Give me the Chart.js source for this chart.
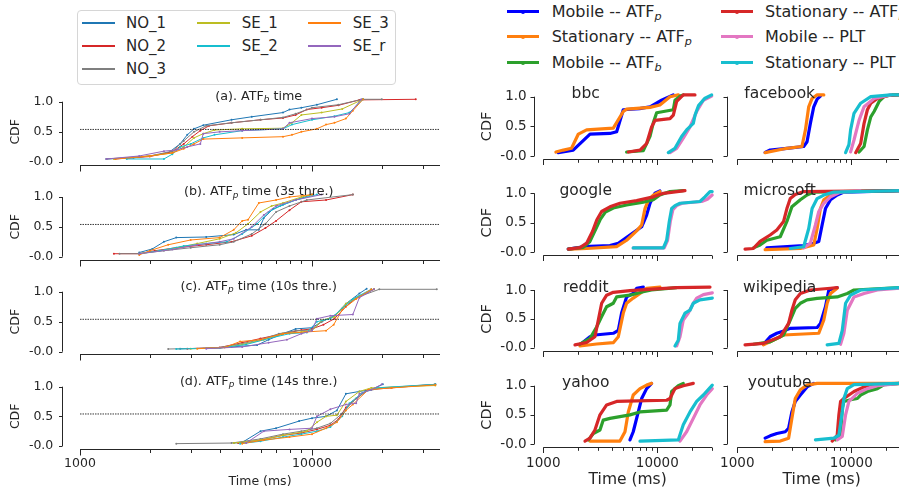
<!DOCTYPE html>
<html>
<head>
<meta charset="utf-8">
<script src="https://cdn.jsdelivr.net/npm/chart.js@4"></script>
<style>
html, body { margin: 0; padding: 0; width: 899px; height: 489px; overflow: hidden; background: #fff; }
body { font-family: "DejaVu Sans"; color: #262626; }
canvas { position: absolute; }
.lg { position: absolute; white-space: nowrap; }
.sw { position: absolute; }
</style>
</head>
<body>
<script>
// ---- data ----
const yTicks = [0, 0.5, 1];
const yTickLabels = ['-0.0', '0.5', '1.0'];
const majorTicks = [1000, 10000];
const minorTicks = [2000, 3000, 4000, 5000, 6000, 7000, 8000, 9000, 20000, 30000];

const leftNames = ['NO_1', 'NO_2', 'NO_3', 'SE_1', 'SE_2', 'SE_3', 'SE_r'];
const leftColors = ['#1f77b4', '#d62728', '#7f7f7f', '#bcbd22', '#17becf', '#ff7f0e', '#9467bd'];
const leftTitles = ['(a). ATF_b time', '(b). ATF_p time (3s thre.)', '(c). ATF_p time (10s thre.)', '(d). ATF_p time (14s thre.)'];
const midLine = [0.54, 0.54, 0.54, 0.54];

// [time ms, cdf] per series, order of leftNames
const atfB = [
  [[1300,0.05],[1700,0.07],[2000,0.1],[2400,0.15],[2700,0.3],[2900,0.45],[3100,0.55],[3400,0.61],[4500,0.7],[5500,0.75],[7500,0.82],[8000,0.87],[9000,0.9],[10500,0.95],[12800,1.04]],
  [[1420,0.05],[2000,0.09],[2500,0.17],[2800,0.3],[3050,0.42],[3300,0.52],[3600,0.6],[4500,0.65],[6000,0.7],[7500,0.73],[8500,0.78],[9500,0.87],[11000,0.9],[13000,0.94],[16000,1.03],[28000,1.04]],
  [[1300,0.05],[2000,0.1],[2500,0.18],[2800,0.35],[3100,0.5],[3500,0.6],[4500,0.65],[6000,0.7],[7500,0.74],[8500,0.8],[10000,0.9],[13000,0.95],[16500,1.04],[20000,1.04]],
  [[1400,0.05],[2000,0.1],[2500,0.15],[2800,0.25],[3100,0.4],[3400,0.47],[3800,0.53],[5000,0.55],[7500,0.56],[8200,0.65],[9000,0.78],[11000,0.82],[13500,0.88],[16600,1.04]],
  [[1590,0.05],[2300,0.05],[2500,0.13],[2700,0.25],[3000,0.3],[3400,0.4],[3800,0.45],[5000,0.52],[7500,0.55],[8200,0.62],[10000,0.7],[12500,0.76],[14500,0.82],[16600,1.04]],
  [[1420,0.05],[2000,0.1],[2500,0.15],[2800,0.22],[3100,0.3],[3400,0.38],[5000,0.4],[7500,0.42],[8200,0.45],[9000,0.5],[10500,0.55],[11500,0.62],[12500,0.65],[14000,0.72],[15000,0.85],[16600,1.04]],
  [[1300,0.05],[1800,0.1],[2300,0.18],[2600,0.2],[2900,0.25],[3300,0.3],[3400,0.47],[4000,0.5],[5000,0.52],[7500,0.55],[8000,0.65],[10000,0.72],[12500,0.75],[14500,0.8],[16300,1.04]]
];
const atfP3 = [
  [[1800,0.07],[2050,0.13],[2300,0.25],[2600,0.32],[3500,0.33],[4600,0.37],[5200,0.45],[5900,0.45],[6200,0.65],[6800,0.8],[7500,0.87],[8500,0.95],[10000,1.04]],
  [[1400,0.05],[1800,0.05],[2100,0.1],[2600,0.15],[3500,0.2],[4500,0.25],[5500,0.35],[6300,0.48],[7000,0.6],[8000,0.78],[9000,0.92],[11500,0.95],[15000,1.04]],
  [[1480,0.05],[1800,0.05],[2300,0.1],[3000,0.15],[4000,0.2],[4600,0.25],[5500,0.38],[6300,0.55],[7000,0.75],[8000,0.85],[9500,0.95],[15000,1.04]],
  [[1800,0.05],[2400,0.12],[3200,0.22],[4000,0.3],[4700,0.4],[5300,0.55],[6000,0.75],[6700,0.85],[7500,0.9],[9000,1.0],[10000,1.04]],
  [[1800,0.05],[2200,0.1],[2800,0.18],[3500,0.22],[4300,0.25],[5000,0.38],[5800,0.55],[6500,0.75],[7300,0.85],[8500,0.95],[10500,1.04]],
  [[1800,0.03],[2000,0.1],[2400,0.2],[3000,0.28],[4000,0.32],[4600,0.45],[5000,0.6],[5300,0.62],[5900,0.9],[7000,0.95],[8000,1.0],[10000,1.04]],
  [[1800,0.05],[2500,0.12],[3200,0.2],[4000,0.25],[4600,0.3],[5500,0.5],[6200,0.7],[7000,0.85],[8500,0.95],[11000,1.04]]
];
const atfP10 = [
  [[2700,0.05],[3800,0.06],[4500,0.08],[5800,0.11],[6500,0.2],[7500,0.3],[8500,0.38],[10000,0.4],[11000,0.5],[12500,0.6],[14000,0.8],[16000,0.97],[17200,1.05]],
  [[2900,0.05],[4000,0.07],[5000,0.15],[6000,0.22],[7500,0.3],[9000,0.36],[10000,0.38],[11200,0.45],[12500,0.55],[14000,0.75],[15500,0.9],[18500,1.04]],
  [[2400,0.045],[3800,0.06],[4800,0.12],[6000,0.2],[7200,0.3],[8500,0.35],[10000,0.36],[11000,0.5],[12500,0.6],[14000,0.78],[16000,0.92],[19500,1.04],[34500,1.04]],
  [[3000,0.05],[4000,0.06],[5000,0.12],[6200,0.2],[7500,0.3],[9000,0.33],[10000,0.35],[11000,0.52],[12500,0.58],[14000,0.8],[16000,0.93],[18500,1.04]],
  [[2600,0.045],[4000,0.06],[5200,0.12],[6500,0.22],[8000,0.3],[9500,0.32],[10500,0.5],[12000,0.55],[13500,0.72],[15000,0.88],[18000,1.04]],
  [[3200,0.05],[4200,0.07],[4900,0.17],[6000,0.2],[7500,0.3],[9500,0.33],[11500,0.35],[12400,0.45],[13500,0.7],[15500,0.88],[18000,1.04]],
  [[3500,0.05],[5000,0.08],[6500,0.15],[7800,0.2],[9000,0.3],[10000,0.35],[10500,0.55],[12000,0.6],[15000,0.62],[16000,0.9],[18500,1.04]]
];
const atfP14 = [
  [[4600,0.05],[5000,0.06],[6000,0.25],[7000,0.3],[8800,0.42],[10000,0.47],[11500,0.5],[12800,0.6],[14000,0.88],[16000,0.92],[18000,0.95],[20200,1.04]],
  [[4800,0.05],[6000,0.1],[7500,0.18],[9000,0.22],[10500,0.28],[12000,0.35],[13000,0.45],[14000,0.65],[15500,0.8],[17500,0.95],[22000,0.98],[34000,1.04]],
  [[2600,0.04],[4500,0.05],[6000,0.12],[7500,0.2],[9000,0.25],[10500,0.3],[12000,0.38],[13500,0.55],[15000,0.75],[17000,0.92],[20000,0.98],[34000,1.04]],
  [[4600,0.05],[6000,0.1],[7500,0.18],[9500,0.25],[10500,0.4],[11500,0.5],[12800,0.52],[14000,0.75],[16000,0.92],[18000,0.98],[34000,1.02]],
  [[4900,0.04],[6000,0.08],[7500,0.15],[9000,0.2],[10500,0.25],[12000,0.32],[13500,0.5],[14500,0.72],[16500,0.9],[19000,0.98],[34000,1.04]],
  [[5000,0.04],[6200,0.1],[8000,0.15],[10000,0.2],[11500,0.3],[12800,0.4],[14000,0.6],[15000,0.7],[17500,0.95],[22000,0.98],[34000,1.03]],
  [[5200,0.05],[6200,0.25],[8000,0.28],[10000,0.3],[10500,0.5],[12000,0.62],[14000,0.7],[15500,0.72],[16000,0.88],[18000,0.95],[20000,1.04]]
];

const rightNames = ['Mobile -- ATF_p', 'Stationary -- ATF_p', 'Mobile -- ATF_b', 'Stationary -- ATF_b', 'Mobile -- PLT', 'Stationary -- PLT'];
const rightColors = ['#0000ff', '#ff7f0e', '#2ca02c', '#d62728', '#e377c2', '#17becf'];
const siteNames = ['bbc', 'facebook', 'google', 'microsoft', 'reddit', 'wikipedia', 'yahoo', 'youtube'];

// order of rightNames
const bbc = [
  [[1350,0.056],[1830,0.1],[2100,0.21],[2570,0.37],[3840,0.38],[4400,0.41],[5030,0.78],[7000,0.8],[8630,0.83],[10900,0.94],[13800,1.03]],
  [[1290,0.067],[1500,0.1],[1770,0.13],[2030,0.37],[2400,0.44],[4110,0.47],[5030,0.75],[5380,0.79],[8630,0.82],[10540,0.86],[12920,1.0],[15280,1.03]],
  [[5380,0.067],[7540,0.09],[8630,0.33],[9220,0.56],[9870,0.73],[13820,0.78],[14290,0.94],[15810,1.01],[16900,1.03]],
  [[5570,0.067],[7050,0.1],[8060,0.21],[8910,0.49],[9540,0.6],[12920,0.63],[13820,0.69],[14790,0.92],[16900,1.03],[21400,1.03]],
  [[12920,0.056],[14790,0.13],[16900,0.3],[19360,0.49],[22150,0.75],[25350,0.94],[29970,1.01]],
  [[12490,0.056],[14290,0.13],[16350,0.33],[18070,0.44],[20690,0.55],[21500,0.7],[23000,0.85],[26000,0.97],[30000,1.03]]
];
const facebook = [
  [[1754,0.06],[1941,0.1],[2723,0.13],[3820,0.16],[4090,0.24],[4375,0.55],[4685,0.83],[5015,0.96],[5360,1.01]],
  [[1754,0.056],[2723,0.13],[3690,0.16],[3960,0.44],[4230,0.83],[4530,0.97],[5015,1.03],[5740,1.03]],
  [[11690,0.067],[12940,0.16],[13840,0.44],[14820,0.66],[15850,0.75],[17540,0.92],[19420,1.0],[22220,1.03],[27000,1.03]],
  [[10920,0.056],[12080,0.21],[12940,0.55],[13840,0.78],[14820,0.89],[16960,0.97],[21000,1.02],[27000,1.03]],
  [[9860,0.07],[10560,0.27],[11690,0.6],[12940,0.83],[15850,0.97],[22220,1.03]],
  [[8910,0.056],[9530,0.19],[9860,0.44],[10560,0.72],[12080,0.89],[14820,1.0],[22220,1.03],[27000,1.03]]
];
const google = [
  [[1656,0.05],[2243,0.09],[3843,0.11],[4550,0.15],[5754,0.29],[7290,0.43],[8060,0.63],[8630,0.83],[9540,1.0],[10540,1.04]],
  [[1714,0.05],[2400,0.06],[4396,0.09],[5380,0.2],[6590,0.36],[7290,0.46],[7800,0.74],[8340,0.88],[9230,0.97],[10540,1.03]],
  [[1656,0.05],[2243,0.08],[2566,0.18],[2900,0.4],[3150,0.55],[3500,0.68],[4110,0.75],[5380,0.8],[7540,0.85],[9230,0.89],[10540,0.97],[12920,1.03],[16900,1.045]],
  [[1656,0.05],[2100,0.074],[2400,0.15],[2700,0.35],[2950,0.55],[3250,0.69],[3843,0.77],[4705,0.83],[6590,0.875],[9230,0.94],[11300,1.0],[17490,1.045]],
  [[6150,0.07],[11500,0.07],[12300,0.2],[13000,0.52],[13700,0.72],[14800,0.79],[16500,0.83],[24500,0.86],[27500,0.9],[30300,0.97]],
  [[6150,0.07],[11300,0.07],[12080,0.2],[12740,0.52],[13360,0.74],[14290,0.79],[15810,0.83],[23650,0.86],[26170,0.94],[28990,1.03],[30300,1.03]]
];
const microsoft = [
  [[1815,0.07],[3820,0.11],[4685,0.15],[5186,0.18],[5546,0.46],[5935,0.74],[6570,0.89],[7520,0.97],[8610,1.02],[27000,1.045]],
  [[1754,0.04],[3573,0.06],[4685,0.12],[5015,0.4],[5360,0.74],[5740,0.89],[6570,0.97],[8050,1.03]],
  [[1384,0.07],[1585,0.12],[1815,0.2],[2380,0.26],[2723,0.52],[3013,0.77],[3573,0.89],[4090,0.97],[4685,1.02],[27000,1.045]],
  [[1169,0.05],[1384,0.06],[1585,0.18],[1941,0.29],[2222,0.375],[2546,0.52],[2723,0.74],[2915,0.91],[3225,0.98],[3820,1.03],[27000,1.045]],
  [[3820,0.07],[4375,0.15],[4845,0.46],[5186,0.69],[5740,0.83],[6570,0.94],[8050,1.02],[12000,1.04]],
  [[2915,0.06],[3820,0.09],[4232,0.4],[4530,0.74],[5015,0.91],[5740,0.97],[7030,1.02],[27000,1.045]]
];
const reddit = [
  [[2097,0.05],[2566,0.19],[2838,0.22],[4110,0.25],[4550,0.3],[4863,0.6],[5380,0.88],[6150,0.94],[6590,1.03],[7540,1.05]],
  [[2097,0.03],[2936,0.064],[4110,0.087],[4550,0.19],[5031,0.6],[5380,0.77],[6150,0.86],[7050,0.94],[8060,1.03],[10540,1.05]],
  [[2097,0.06],[2566,0.16],[2936,0.36],[3250,0.54],[3593,0.71],[4110,0.77],[4396,0.88],[5754,0.91],[7540,0.97],[8910,1.0],[14790,1.04]],
  [[1896,0.05],[2400,0.09],[2838,0.19],[3038,0.48],[3250,0.77],[3593,0.91],[4110,0.96],[5754,0.99],[9870,1.02],[14790,1.04],[28990,1.05]],
  [[14790,0.03],[15810,0.19],[16900,0.48],[18710,0.6],[20690,0.77],[22150,0.86],[25350,0.92],[30370,0.95]],
  [[14290,0.03],[15280,0.13],[15810,0.42],[17490,0.6],[19360,0.65],[20690,0.77],[23650,0.83],[30370,0.86]]
];
const wikipedia = [
  [[1696,0.06],[1941,0.19],[2222,0.25],[2634,0.3],[2915,0.335],[5015,0.35],[5360,0.42],[5935,0.71],[6350,1.0],[7520,1.04]],
  [[1696,0.05],[2222,0.16],[2546,0.22],[5186,0.25],[5740,0.48],[6140,0.77],[6570,0.94],[7520,1.03]],
  [[1384,0.06],[1941,0.1],[2546,0.22],[2915,0.48],[3225,0.68],[3573,0.77],[4090,0.83],[5015,0.855],[7520,0.88],[9220,0.94],[10560,1.0],[26700,1.04]],
  [[1169,0.05],[1696,0.075],[2380,0.19],[2818,0.42],[3013,0.65],[3225,0.83],[3573,0.94],[4375,1.0],[6570,1.03],[7520,1.04]],
  [[8050,0.06],[8610,0.25],[9220,0.65],[10560,0.88],[12940,0.94],[16960,1.0],[26700,1.03]],
  [[6140,0.05],[7780,0.075],[8330,0.3],[8910,0.77],[9860,0.91],[12080,1.0],[26700,1.04]]
];
const yahoo = [
  [[5754,0.07],[6150,0.21],[6810,0.55],[7290,0.78],[8060,0.95],[8910,1.04]],
  [[2566,0.05],[4705,0.05],[5205,0.21],[5567,0.55],[6150,0.84],[7050,0.95],[8060,1.01],[8910,1.04]],
  [[2481,0.07],[2746,0.18],[3141,0.24],[3357,0.41],[3843,0.44],[5754,0.5],[7050,0.55],[12080,0.58],[12920,0.67],[13360,0.9],[15280,1.0],[16900,1.04]],
  [[2321,0.05],[2566,0.1],[2838,0.24],[3141,0.5],[3593,0.67],[4396,0.73],[6590,0.74],[12080,0.75],[12920,0.78],[14290,0.95],[16900,1.0],[20690,1.04]],
  [[15810,0.05],[18070,0.21],[20690,0.44],[23650,0.67],[27080,0.84],[30370,0.95]],
  [[7050,0.05],[15280,0.07],[16900,0.33],[19360,0.55],[22150,0.73],[25350,0.84],[30370,1.01]]
];
const youtube = [
  [[1754,0.1],[1941,0.14],[2222,0.18],[2634,0.21],[2818,0.27],[3013,0.55],[3225,0.73],[3573,0.84],[4090,0.98],[4685,1.04]],
  [[1754,0.04],[2380,0.05],[2818,0.1],[3013,0.44],[3225,0.78],[3573,0.93],[4090,1.01],[5015,1.04],[27000,1.04]],
  [[7280,0.07],[8050,0.15],[8330,0.61],[8610,0.73],[9860,0.76],[11300,0.78],[12080,0.84],[13840,0.9],[16960,0.95],[19420,1.02],[27000,1.04]],
  [[6790,0.05],[7520,0.15],[7780,0.5],[8050,0.73],[8610,0.78],[10560,0.9],[12940,0.98],[14820,1.02],[27000,1.04]],
  [[7520,0.07],[8330,0.13],[8910,0.5],[9530,0.73],[11300,0.87],[13840,0.95],[16960,1.0],[27000,1.04]],
  [[4845,0.07],[7030,0.1],[7780,0.15],[8330,0.55],[8610,0.78],[9220,0.95],[10560,1.02],[27000,1.04]]
];

const leftPanels = [atfB, atfP3, atfP10, atfP14];
const sitePanels = [bbc, facebook, google, microsoft, reddit, wikipedia, yahoo, youtube];

// ---- drawing ----
const FONT = 'DejaVu Sans';
const INK = '#262626';

function drawRich(ctx, text, cx, base, size) {
  const m = text.match(/^(.*?)_(\w)(.*)$/);
  const parts = m ? [[m[1], false], [m[2], true], [m[3], false]] : [[text, false]];
  const fN = size + 'px "' + FONT + '"';
  const fS = 'italic ' + (size * 0.7) + 'px "' + FONT + '"';
  let w = 0;
  parts.forEach(p => { ctx.font = p[1] ? fS : fN; p.push(ctx.measureText(p[0]).width); w += p[2]; });
  let x = cx - w / 2;
  ctx.textAlign = 'left';
  ctx.textBaseline = 'alphabetic';
  parts.forEach(p => {
    ctx.font = p[1] ? fS : fN;
    ctx.fillText(p[0], x, p[1] ? base + size * 0.22 : base);
    x += p[2];
  });
}

const panelPlugin = {
  id: 'panel',
  afterDraw(chart, args, o) {
    const {ctx, chartArea: a, scales: {x, y}} = chart;
    ctx.save();
    ctx.strokeStyle = INK;
    ctx.lineWidth = 1;
    ctx.beginPath();
    const sx = Math.round(a.left - o.gap) + 0.5;
    ctx.moveTo(sx, y.getPixelForValue(0));
    ctx.lineTo(sx, y.getPixelForValue(1));
    yTicks.forEach(v => {
      const p = Math.round(y.getPixelForValue(v)) + 0.5;
      ctx.moveTo(sx - o.yTickLen, p);
      ctx.lineTo(sx, p);
    });
    const by = Math.round(a.bottom) + 0.5;
    ctx.moveTo(a.left, by);
    ctx.lineTo(a.right, by);
    majorTicks.concat(minorTicks).forEach(v => {
      if (v > x.max) return;
      const p = Math.round(x.getPixelForValue(v)) + 0.5;
      ctx.moveTo(p, by);
      ctx.lineTo(p, by + (majorTicks.includes(v) ? o.majorLen : o.minorLen));
    });
    ctx.stroke();
    ctx.fillStyle = INK;
    drawRich(ctx, o.title, a.left + o.titleDx, y.getPixelForValue(1) + o.titleDy, o.titleSize);
    ctx.restore();
  }
};

function pts(arr) { return arr.map(p => ({x: p[0], y: p[1]})); }

function buildChart(c) {
  const cv = document.createElement('canvas');
  cv.width = c.W; cv.height = c.H;
  cv.style.left = c.L + 'px'; cv.style.top = c.T + 'px';
  document.body.appendChild(cv);
  const unit = c.px0 - c.px1;
  const ct = c.px0 + c.px1 - c.cb;
  const yw = c.cl - c.L, xh = c.T + c.H - c.cb;
  const xmax = 1000 * Math.pow(10, (c.cr - c.cl) / c.decade);
  const s = c.style;
  const datasets = c.series.map((arr, i) => ({
    data: pts(arr),
    borderColor: c.colors[i], backgroundColor: c.colors[i],
    borderWidth: s.lw, pointRadius: s.pr, pointBorderWidth: 0,
    pointHoverRadius: 0, tension: 0, clip: false,
    borderJoinStyle: 'round', borderCapStyle: 'round',
    order: c.series.length - i
  }));
  if (c.mid !== undefined) {
    datasets.push({
      data: [{x: 1000, y: c.mid}, {x: xmax, y: c.mid}],
      borderColor: '#222', borderWidth: 0.9, borderDash: [1.5, 1],
      pointRadius: 0, pointHoverRadius: 0, clip: false, order: -1
    });
  }
  new Chart(cv, {
    type: 'line',
    data: {datasets},
    options: {
      responsive: false, animation: false, events: [], devicePixelRatio: 1,
      layout: {autoPadding: false, padding: {left: 0, bottom: 0, top: ct - c.T, right: c.L + c.W - c.cr}},
      plugins: {
        legend: {display: false}, tooltip: {enabled: false},
        panel: {gap: s.gap, yTickLen: s.yTickLen, majorLen: s.majorLen, minorLen: s.minorLen,
                title: c.title, titleDx: s.titleDx, titleDy: s.titleDy, titleSize: s.titleSize}
      },
      scales: {
        x: {
          type: 'logarithmic', min: 1000, max: xmax,
          grid: {display: false, drawTicks: false}, border: {display: false},
          afterBuildTicks: sc => { sc.ticks = majorTicks.map(v => ({value: v})); },
          afterFit: sc => { sc.height = xh; sc.paddingLeft = 0; sc.paddingRight = 0; sc.paddingTop = 0; sc.paddingBottom = 0; },
          ticks: {display: c.bottom, autoSkip: false, maxRotation: 0, minRotation: 0, padding: s.xTickPad,
                  color: INK, font: {family: FONT, size: s.tick}, callback: v => String(v)},
          title: {display: c.bottom, text: 'Time (ms)', color: INK, font: {family: FONT, size: s.xTitle}, padding: {top: 0, bottom: 0}}
        },
        y: {
          type: 'linear', min: (c.px0 - c.cb) / unit, max: (c.px0 - ct) / unit,
          grid: {display: false, drawTicks: false}, border: {display: false},
          afterBuildTicks: sc => { sc.ticks = yTicks.map(v => ({value: v})); },
          afterFit: sc => { sc.width = yw; sc.paddingTop = 0; sc.paddingBottom = 0; sc.paddingLeft = 0; sc.paddingRight = 0; },
          ticks: {display: c.yLabels, autoSkip: false, padding: s.yTickPad, color: INK,
                  font: {family: FONT, size: s.tick}, callback: (v, i) => yTickLabels[i]},
          title: {display: c.yLabels, text: 'CDF', color: INK, font: {family: FONT, size: s.yTitle}, padding: {top: s.yTitlePad, bottom: 0}}
        }
      }
    },
    plugins: [panelPlugin]
  });
}

// left column
const leftStyle = {lw: 1, pr: 1, gap: 18, yTickLen: 3.5, majorLen: 6, minorLen: 3.5, tick: 12.5, xTitle: 12.5,
  yTitle: 12.5, yTitlePad: 8.2, yTickPad: 26.7, xTickPad: 7.2, titleDx: 178.7, titleDy: -2, titleSize: 12.7};
const leftRows = [
  {px1: 101.7, px0: 162, cb: 165, T: 80, H: 95},
  {px1: 197, px0: 256.7, cb: 260.3, T: 175, H: 96},
  {px1: 291.7, px0: 351.7, cb: 354.3, T: 270, H: 95},
  {px1: 386.7, px0: 446, cb: 449.3, T: 365, H: 124}
];
leftRows.forEach((r, i) => buildChart(Object.assign({
  L: 0, W: 450, cl: 80, cr: 440, decade: 232, style: leftStyle, series: leftPanels[i], colors: leftColors,
  title: leftTitles[i], mid: midLine[i], bottom: i === 3, yLabels: true
}, r)));

// right grid
const rightStyle = {lw: 3.2, pr: 0, yTickLen: 4, majorLen: 5.5, minorLen: 3.3, tick: 13.5, xTitle: 15.5,
  yTitle: 14.5, yTitlePad: 8.6, yTickPad: 16.6, xTickPad: 8.5, titleDx: 42.4, titleDy: 1.5, titleSize: 15.5};
const rightRows = [
  {px1: 96.7, px0: 156, cb: 159.3, T: 78, H: 92},
  {px1: 193.3, px0: 252, cb: 255, T: 172, H: 94},
  {px1: 290, px0: 347.7, cb: 351, T: 268, H: 94},
  {px1: 385.7, px0: 444, cb: 446.7, T: 364, H: 125}
];
const rightCols = [
  {L: 470, W: 250, cl: 543.3, cr: 712, gap: 9.3, yLabels: true},
  {L: 720, W: 190, cl: 737.3, cr: 906, gap: 10.3, yLabels: false}
];
rightRows.forEach((r, ri) => rightCols.forEach((col, ci) => {
  const k = ri * 2 + ci;
  buildChart(Object.assign({
    decade: 114, style: Object.assign({}, rightStyle, {gap: col.gap}), series: sitePanels[k], colors: rightColors,
    title: siteNames[k], bottom: ri === 3
  }, r, col));
}));

// legends
function addDiv(cls, css, html) {
  const d = document.createElement('div');
  d.className = cls;
  Object.assign(d.style, css);
  if (html !== undefined) d.innerHTML = html;
  document.body.appendChild(d);
  return d;
}
function addLabel(html, x, yc, size) {
  addDiv('lg', {left: x + 'px', top: (yc - size * 0.48) + 'px', fontSize: size + 'px', lineHeight: size + 'px', color: INK}, html);
}

addDiv('sw', {left: '77px', top: '10px', width: '317px', height: '73px', border: '1px solid #d6d6d6', borderRadius: '4px', background: '#fff'});
const leftCols = [[82, 126], [197.3, 241.7], [308.3, 352.7]];
const leftLegRows = [22.7, 45.7, 69];
const leftSlots = [[0, 0], [0, 1], [0, 2], [1, 0], [1, 1], [2, 0], [2, 1]];
leftNames.forEach((n, i) => {
  const [c, r] = leftSlots[i];
  const yc = leftLegRows[r];
  addDiv('sw', {left: leftCols[c][0] + 'px', top: (yc - 1) + 'px', width: '33px', height: '2px', background: leftColors[i]});
  addLabel(n, leftCols[c][1], yc, 15);
});

const rCols = [[506.7, 551.7], [720.7, 765]];
const rRows = [11.7, 36.7, 62.7];
rightNames.forEach((n, i) => {
  const c = Math.floor(i / 3), r = i % 3;
  const yc = rRows[r];
  addDiv('sw', {left: rCols[c][0] + 'px', top: (yc - 1.5) + 'px', width: '32px', height: '3px', background: rightColors[i]});
  addDiv('sw', {left: (rCols[c][0] + 14) + 'px', top: (yc - 2) + 'px', width: '4px', height: '4px', borderRadius: '50%', background: rightColors[i]});
  const html = n.replace(/_(\w)$/, '<span style="font-style:italic;font-size:70%;position:relative;top:0.3em">$1</span>');
  addLabel(html, rCols[c][1], yc, 16);
});
</script>
</body>
</html>
